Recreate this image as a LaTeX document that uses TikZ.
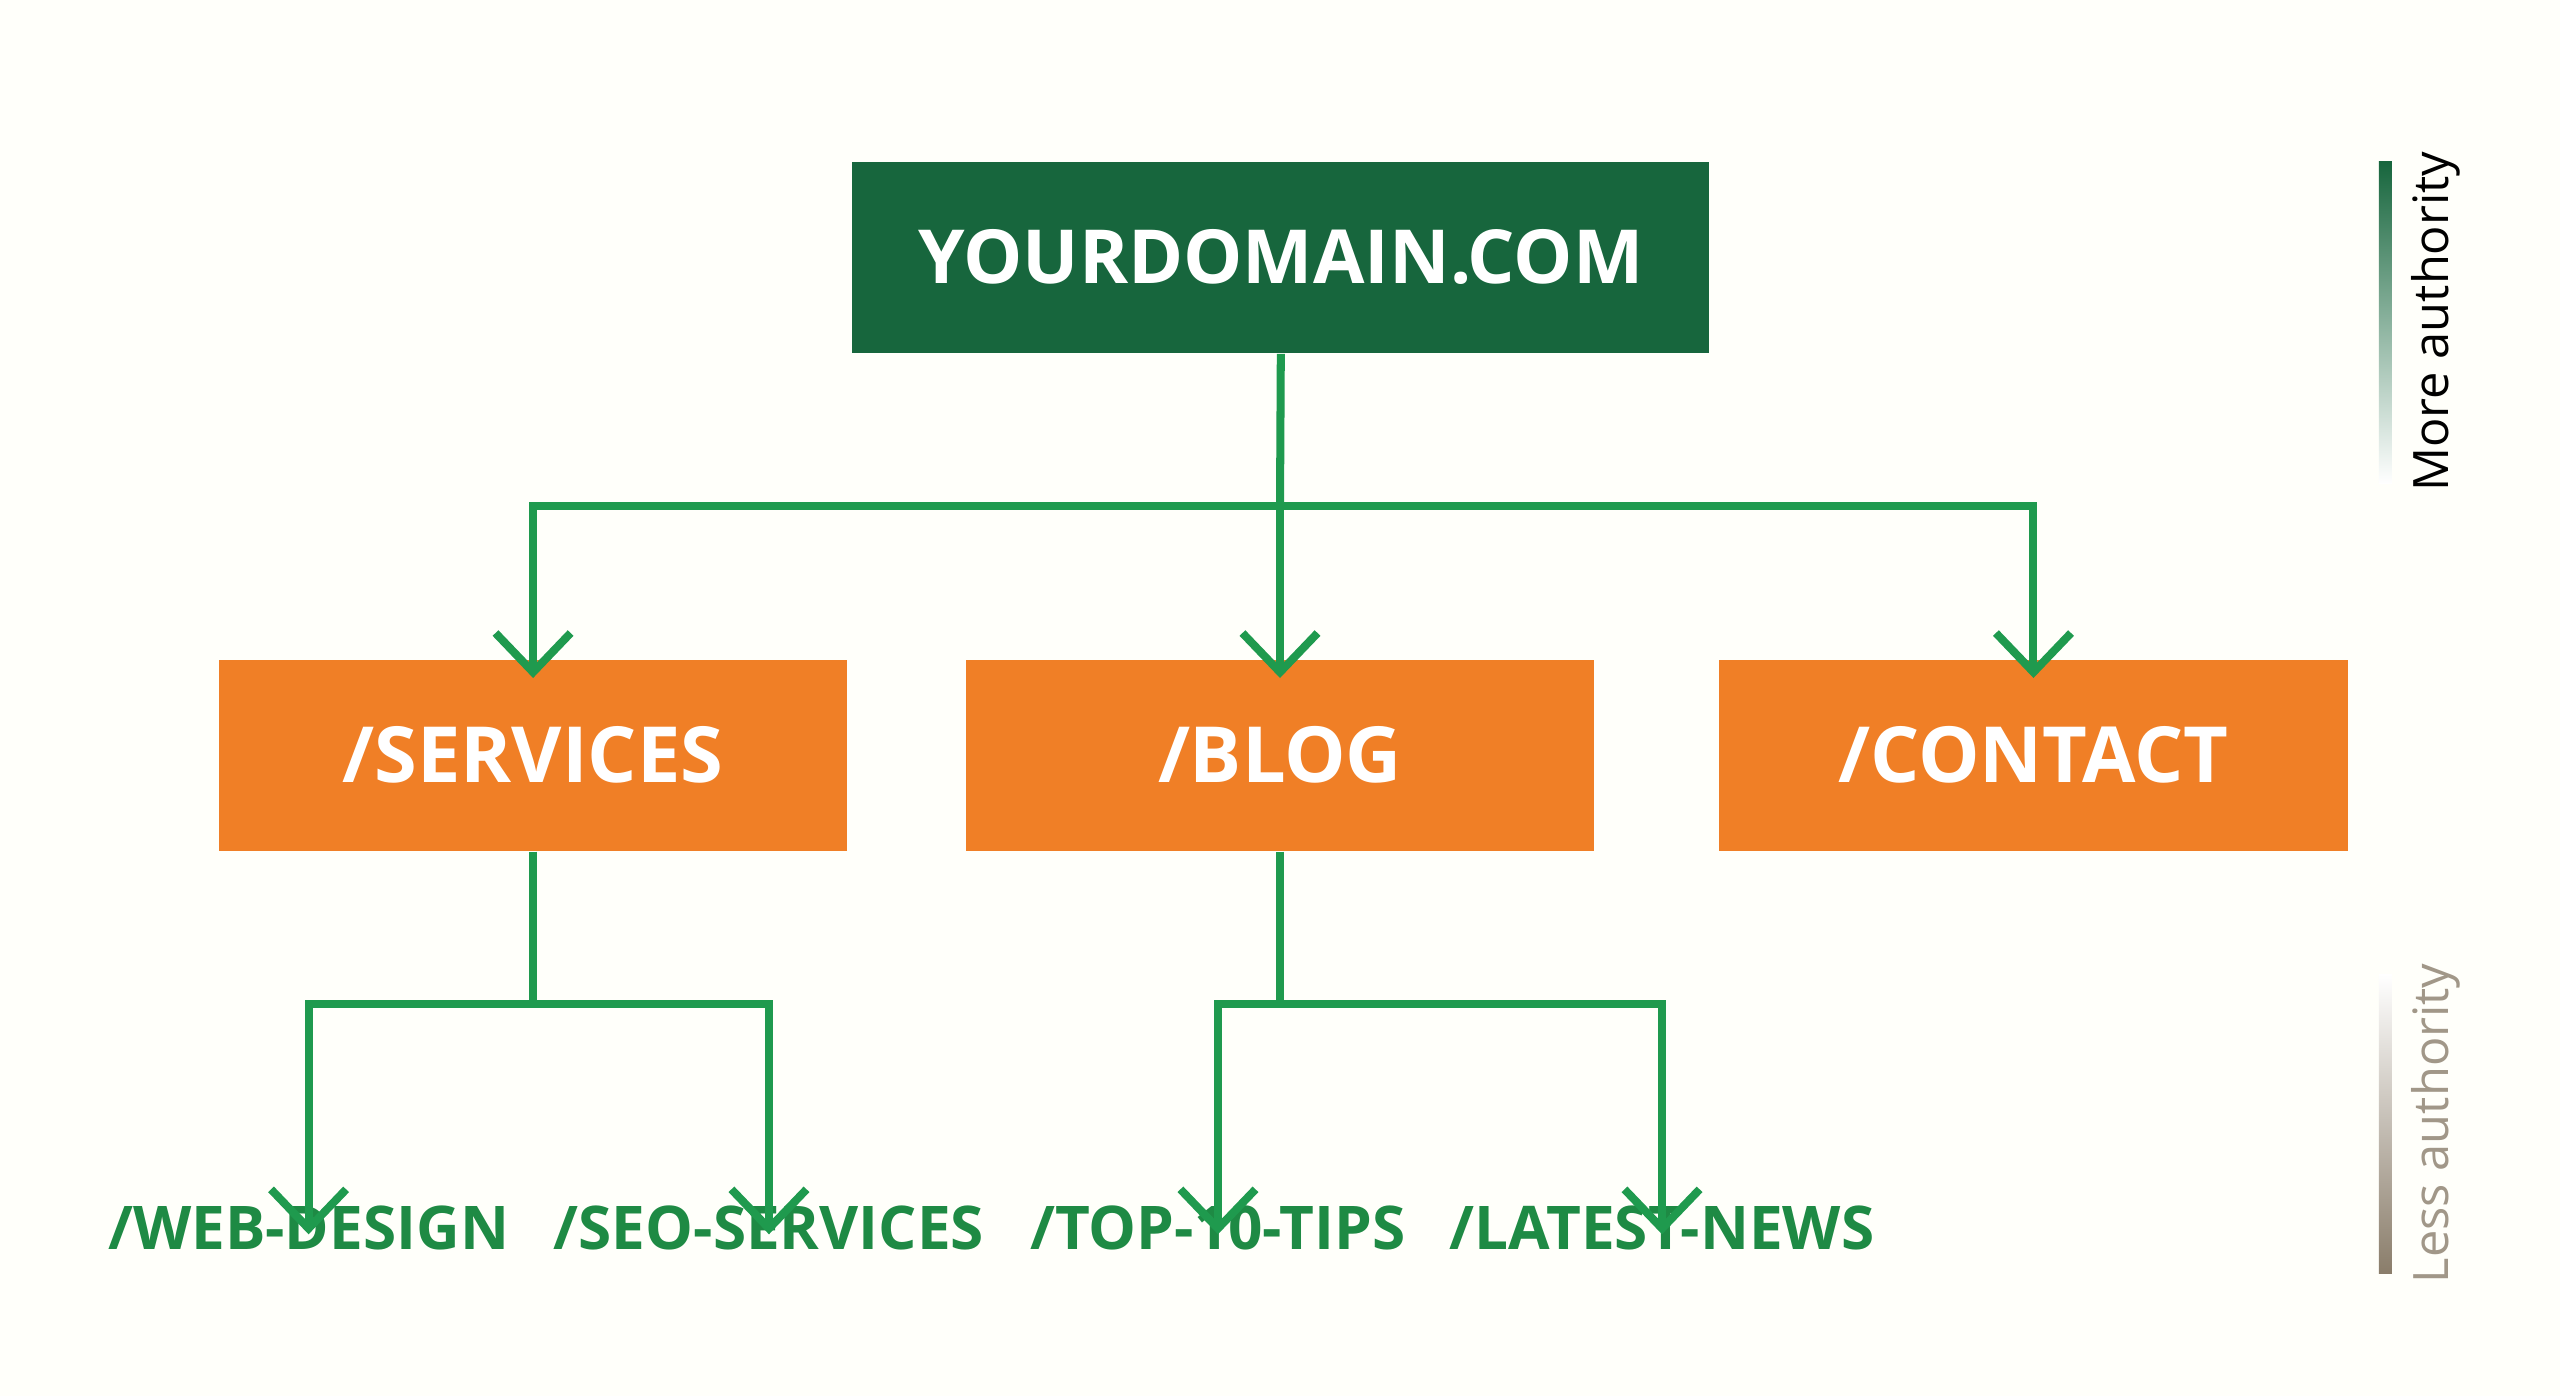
\documentclass[tikz,border=0pt]{standalone}
\usepackage{fontspec}
\setmainfont{Open Sans}
\usetikzlibrary{arrows.meta,positioning}
\definecolor{rootgreen}{HTML}{17663D}
\definecolor{pageorange}{HTML}{F07F26}
\definecolor{linkgreen}{HTML}{1F9A4E}
\definecolor{leafgreen}{HTML}{1E8A44}
\definecolor{lessgray}{HTML}{8A7D6A}
\begin{document}
\begin{tikzpicture}[x=0.1mm,y=-0.1mm,
    rootbox/.style={fill=rootgreen,text=white,minimum width=52.5mm,minimum height=11.7mm,font=\fontsize{13}{15}\selectfont\bfseries},
    pagebox/.style={fill=pageorange,text=white,minimum width=38.5mm,minimum height=11.7mm,font=\fontsize{13.5}{15}\selectfont\bfseries},
    leaf/.style={text=leafgreen,font=\fontsize{10.5}{12}\selectfont\bfseries},
    link/.style={draw=linkgreen,line width=1.4pt},
    arr/.style={link,-{Straight Barb[length=2.4mm,width=4.6mm,line width=1.4pt]}},
    side/.style={rotate=90,font=\fontsize{8.5}{10}\selectfont}]
  \useasboundingbox[fill=white!98!yellow] (0,0) rectangle (1568,855);
  % site tree
  \node[rootbox] (root) at (784.5,157.5) {YOURDOMAIN.COM};
  \node[pagebox] (services) at (326.5,462.5) {/SERVICES};
  \node[pagebox] (blog) at (784,462.5) {/BLOG};
  \node[pagebox] (contact) at (1245.5,462.5) {/CONTACT};
  \node[leaf] (webdesign) at (189,752) {/WEB-DESIGN};
  \node[leaf] (seo) at (471,752) {/SEO-SERVICES};
  \node[leaf] (tips) at (746,752) {/TOP-10-TIPS};
  \node[leaf] (news) at (1018,752) {/LATEST-NEWS};
  \coordinate (bus) at (784,310);
  \coordinate (sbus) at (326.5,615);
  \coordinate (bbus) at (784,615);
  \draw[link] (root.south) -- (bus);
  \draw[arr] (bus) -| ([yshift=-1.2mm]services.north);
  \draw[arr] (bus) -- ([yshift=-1.2mm]blog.north);
  \draw[arr] (bus) -| ([yshift=-1.2mm]contact.north);
  \draw[link] (services.south) -- (sbus);
  \draw[arr] (sbus) -| ([yshift=-3mm]webdesign.north);
  \draw[arr] (sbus) -| ([yshift=-3mm]seo.north);
  \draw[link] (blog.south) -- (bbus);
  \draw[arr] (bbus) -| ([yshift=-3mm]tips.north);
  \draw[arr] (bbus) -| ([yshift=-3mm]news.north);
  % authority scale
  \shade[top color=rootgreen,bottom color=white] (1457,99) rectangle (1465,296);
  \shade[top color=white,bottom color=lessgray] (1457,597) rectangle (1465,780);
  \node[side] (more) at (1492,197) {More authority};
  \node[side,text=lessgray!80] (less) at (1492,688) {Less authority};
\end{tikzpicture}
\end{document}
